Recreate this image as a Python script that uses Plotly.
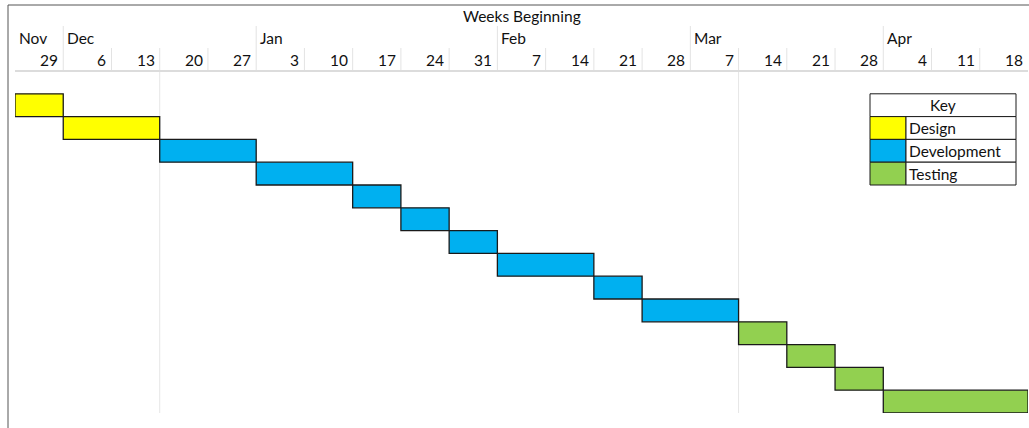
import plotly.graph_objects as go

# ---- data ----
week_days = [29, 6, 13, 20, 27, 3, 10, 17, 24, 31, 7, 14, 21, 28, 7, 14, 21, 28, 4, 11, 18]
month_names = ["Nov", "Dec", "Jan", "Feb", "Mar", "Apr"]
month_start_week = [0, 1, 5, 10, 14, 18]

task_start = [0, 1, 3, 5, 7, 8, 9, 10, 12, 13, 15, 16, 17, 18]
task_weeks = [1, 2, 2, 2, 1, 1, 1, 2, 1, 2, 1, 1, 1, 3]
task_phase = ["Design", "Design", "Development", "Development", "Development", "Development",
              "Development", "Development", "Development", "Development",
              "Testing", "Testing", "Testing", "Testing"]
phases = ["Design", "Development", "Testing"]
phase_colors = {"Design": "#FFFF00", "Development": "#00B0F0", "Testing": "#92D050"}
grid_weeks = [3, 15]

FONT = "Lato"
FS = 15.5
TXT = "#111111"
W, H = 1029, 428
ML, MR, MT, MB = 15, 1, 71, 15
PH = H - MT - MB
PW = W - ML - MR


def py(p):
    return (H - MB - p) / PH


def px(p):
    return (p - ML) / PW


fig = go.Figure()
for ph in phases:
    idx = [i for i, t in enumerate(task_phase) if t == ph]
    fig.add_trace(go.Bar(
        orientation="h",
        y=idx,
        x=[task_weeks[i] for i in idx],
        base=[task_start[i] for i in idx],
        width=1,
        marker=dict(color=phase_colors[ph], line=dict(color="#1a1a1a", width=1.3)),
        name=ph,
        showlegend=False,
    ))

shapes = []
annotations = []
n_weeks = len(week_days)

# header text
annotations.append(dict(x=0.5, y=py(16), xref="paper", yref="paper", text="Weeks Beginning",
                        showarrow=False, font=dict(family=FONT, size=FS, color=TXT),
                        xanchor="center", yanchor="middle"))
for i, d in enumerate(week_days):
    annotations.append(dict(x=i + 1, y=py(60), xref="x", yref="paper", text=str(d),
                            showarrow=False, xanchor="right", yanchor="middle", xshift=-3,
                            font=dict(family=FONT, size=FS, color=TXT)))
for m, s in zip(month_names, month_start_week):
    annotations.append(dict(x=s, y=py(38), xref="x", yref="paper", text=m,
                            showarrow=False, xanchor="left", yanchor="middle", xshift=2,
                            font=dict(family=FONT, size=FS, color=TXT)))

# header separators
for i in range(1, n_weeks):
    top = py(26) if i in month_start_week else py(48)
    shapes.append(dict(type="line", xref="x", yref="paper", x0=i, x1=i, y0=1, y1=top,
                       line=dict(color="#e3e3e3", width=1)))
shapes.append(dict(type="line", xref="paper", yref="paper", x0=0, x1=1, y0=1, y1=1,
                   line=dict(color="#dcdcdc", width=2)))
# gridlines
for g in grid_weeks:
    shapes.append(dict(type="line", xref="x", yref="paper", x0=g, x1=g, y0=0, y1=1,
                       line=dict(color="#e6e6e6", width=1), layer="below"))
# outer borders
shapes.append(dict(type="line", xref="paper", yref="paper", x0=px(8), x1=1.01, y0=py(5), y1=py(5),
                   line=dict(color="#555555", width=1)))
shapes.append(dict(type="line", xref="paper", yref="paper", x0=px(8), x1=px(8), y0=py(5), y1=py(430),
                   line=dict(color="#555555", width=1)))

# key table
kx0, kx1, kx2 = px(870), px(906), px(1016)
shapes.append(dict(type="rect", xref="paper", yref="y", x0=kx0, x1=kx2, y0=-0.5, y1=0.5,
                   line=dict(color="#1a1a1a", width=1), fillcolor="white"))
annotations.append(dict(x=(kx0 + kx2) / 2, y=0, xref="paper", yref="y", text="Key", showarrow=False,
                        font=dict(family=FONT, size=FS, color=TXT), xanchor="center", yanchor="middle"))
for r, ph in enumerate(phases, start=1):
    shapes.append(dict(type="rect", xref="paper", yref="y", x0=kx0, x1=kx1, y0=r - 0.5, y1=r + 0.5,
                       line=dict(color="#1a1a1a", width=1), fillcolor=phase_colors[ph]))
    shapes.append(dict(type="rect", xref="paper", yref="y", x0=kx1, x1=kx2, y0=r - 0.5, y1=r + 0.5,
                       line=dict(color="#1a1a1a", width=1), fillcolor="white"))
    annotations.append(dict(x=kx1, y=r, xref="paper", yref="y", text=ph, showarrow=False, xshift=1,
                            font=dict(family=FONT, size=FS, color=TXT), xanchor="left", yanchor="middle"))

fig.update_layout(
    width=W, height=H,
    margin=dict(l=ML, r=MR, t=MT, b=MB),
    paper_bgcolor="white", plot_bgcolor="white",
    barmode="overlay",
    shapes=shapes, annotations=annotations,
    xaxis=dict(range=[0, n_weeks], showgrid=False, zeroline=False, showticklabels=False,
               ticks="", fixedrange=True),
    yaxis=dict(range=[13.5, -1.5], showgrid=False, zeroline=False, showticklabels=False,
               ticks="", fixedrange=True),
    showlegend=False,
)
fig.write_html("out.html")
